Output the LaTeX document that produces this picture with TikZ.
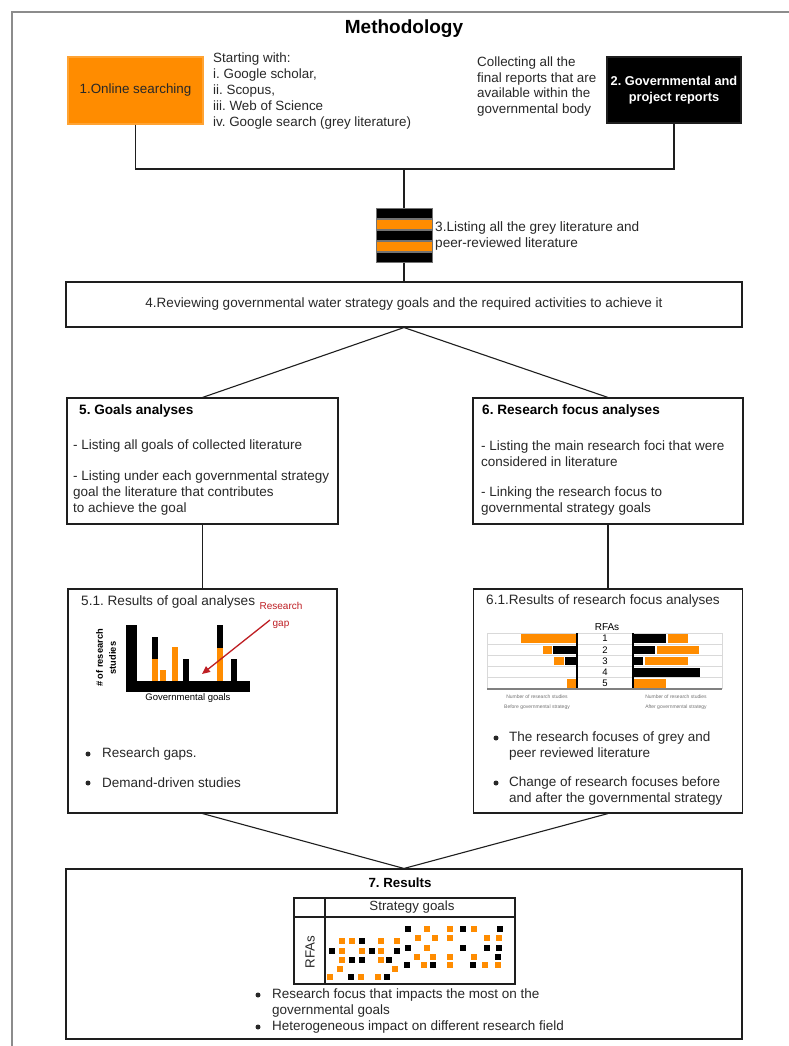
\documentclass[tikz,border=0pt]{standalone}
\usepackage{fontspec}
\setmainfont{Liberation Sans}
\usetikzlibrary{arrows.meta}
\definecolor{orng}{RGB}{255,140,0}
\definecolor{lcol}{RGB}{30,30,30}
\definecolor{tcol}{RGB}{40,40,40}
\definecolor{gapred}{RGB}{190,30,35}
\begin{document}
\frenchspacing
\begin{tikzpicture}[x=1pt,y=-1pt,
  box/.style={draw=lcol,line width=1.1pt,inner sep=0pt},
  conn/.style={draw=lcol,line width=1.1pt},
  tt/.style={inner sep=0pt,text=tcol,align=left,font=\fontsize{13.5}{16}\selectfont},
  tsm/.style={inner sep=0pt,text=tcol,align=left,font=\fontsize{13.4}{15.8}\selectfont},
  thd/.style={inner sep=0pt,text=black,align=left,font=\bfseries\fontsize{13.6}{16}\selectfont},
  tbig/.style={inner sep=0pt,text=tcol,align=left,font=\fontsize{13.6}{16}\selectfont},
  bul/.style={circle,fill=tcol,inner sep=0pt,minimum size=5pt},
  tiny/.style={inner sep=0pt,text=black!55,font=\fontsize{5}{6}\selectfont},
  osq/.style={fill=orng},
  bsq/.style={fill=black}]
\useasboundingbox (0,0) rectangle (789,1046);
\fill[white] (0,0) rectangle (789,1046);
\draw[black!45,line width=1.5pt] (12,1046) -- (12,12) -- (789,12);

% title
\node[inner sep=0pt,font=\bfseries\fontsize{19}{22}\selectfont] (title) at (404,29) {Methodology};

% top boxes
\node[box,draw=orng!80,fill=orng,minimum width=135,minimum height=67,text=tcol,font=\fontsize{13.4}{16}\selectfont] (b1) at (135.5,90.5) {1.Online searching};
\node[box,fill=black,minimum width=134,minimum height=66,text=white,align=center,font=\bfseries\fontsize{12.8}{16}\selectfont] (b2) at (674,90) {2. Governmental and\\project reports};
\node[tsm,anchor=west] (src) at (213,91) {Starting with:\\i. Google scholar,\\ii. Scopus,\\iii. Web of Science\\iv. Google search (grey literature)};
\node[tsm,anchor=west] (col) at (477,86.5) {Collecting all the\\final reports that are\\available within the\\governmental body};

\coordinate (j) at (404,169);
\node[minimum width=56,minimum height=55,inner sep=0pt] (st) at (404,235.5) {};
\draw[conn] (b1.south) -- (b1.south |- j) -- (b2.south |- j) -- (b2.south);
\draw[conn] (j) -- (st.north);

% stack
\foreach \i/\c in {0/black,1/orng,2/black,3/orng,4/black}
  \filldraw[fill=\c,draw=black!55,line width=0.5pt] (376,{208+\i*11}) rectangle (432,{218.5+\i*11});
\node[tsm,font=\fontsize{13.6}{16}\selectfont,anchor=west] (t3) at (435,236) {3.Listing all the grey literature and\\peer-reviewed literature};

% box 4
\node[box,minimum width=676,minimum height=45,text=tcol,font=\fontsize{13.5}{16}\selectfont] (b4) at (404,304.5) {4.Reviewing governmental water strategy goals and the required activities to achieve it};
\draw[conn] (st.south) -- (b4.north);

% boxes 5 and 6
\node[box,minimum width=271,minimum height=126] (b5) at (202.5,461) {};
\node[box,minimum width=270,minimum height=126] (b6) at (608,461) {};
\draw[conn] (b4.south) -- (b5.north);
\draw[conn] (b4.south) -- (b6.north);
\node[thd,anchor=west] (b5h) at (79,411) {5. Goals analyses};
\node[tt,anchor=west] (b5a) at (73,446) {- Listing all goals of collected literature};
\node[tt,anchor=west] (b5b) at (73,493) {- Listing under each governmental strategy\\goal the literature that contributes\\to achieve the goal};
\node[thd,anchor=west] (b6h) at (482,411) {6. Research focus analyses};
\node[tt,anchor=west] (b6a) at (481,454) {- Listing the main research foci that were\\considered in literature};
\node[tt,anchor=west] (b6b) at (481,501) {- Linking the research focus to\\governmental strategy goals};

% boxes 5.1 and 6.1
\node[box,minimum width=269,minimum height=224] (b51) at (202.5,701) {};
\node[box,minimum width=269,minimum height=224] (b61) at (608,701) {};
\draw[conn] (b5.south) -- (b51.north);
\draw[conn] (b6.south) -- (b61.north);

\node[tbig,anchor=west] (b51h) at (81,602) {5.1. Results of goal analyses};
% bar chart 5.1
\fill[black] (126,625) rectangle (137,692);
\fill[black] (126,681) rectangle (250,692);
\fill[black] (152,637) rectangle (158,659);
\fill[orng] (152,659) rectangle (158,681);
\fill[orng] (160,670) rectangle (166,681);
\fill[orng] (172,647) rectangle (178,681);
\fill[black] (183,659) rectangle (189,681);
\fill[black] (217,625) rectangle (223,648);
\fill[orng] (217,648) rectangle (223,681);
\fill[black] (231,659) rectangle (237,681);
\node[inner sep=0pt,rotate=90,align=center,font=\bfseries\fontsize{9.3}{13}\selectfont] (ylab) at (106,658) {\# of research\\studies};
\node[inner sep=0pt,font=\fontsize{9.5}{11}\selectfont] (xlab) at (188,698) {Governmental goals};
\node[inner sep=0pt,text=gapred,align=center,font=\fontsize{10}{16.5}\selectfont] (gap) at (281,615.5) {Research\\gap};
\coordinate (gs) at (270,620);
\coordinate (ge) at (202,674);
\draw[gapred,line width=1.3pt,-{Triangle[length=8pt,width=7pt]}] (gs) -- (ge);
\node[bul] (bu1) at (88,754) {};
\node[tt,anchor=west] (r1) at (102,754) {Research gaps.};
\node[bul] (bu2) at (88,783) {};
\node[tt,anchor=west] (r2) at (102,783) {Demand-driven studies};

% 6.1
\node[tbig,anchor=west] (b61h) at (486,601) {6.1.Results of research focus analyses};
\node[inner sep=0pt,font=\fontsize{10}{12}\selectfont] (rfa) at (607,627) {RFAs};
\foreach \y in {633,644.2,655.4,666.6,677.8}
  \draw[black!15,line width=0.7pt] (487,\y) -- (722,\y);
\draw[black!15,line width=0.7pt] (487,633) -- (487,689);
\draw[black!15,line width=0.7pt] (722,633) -- (722,689);
% row 1
\fill[orng] (521,634.3) rectangle (577,642.9);
\fill[black] (633,634.3) rectangle (666,642.9);
\fill[orng] (667.5,634.3) rectangle (688,642.9);
% row 2
\fill[orng] (543,645.5) rectangle (552,654.1);
\fill[black] (553,645.5) rectangle (577,654.1);
\fill[black] (633,645.5) rectangle (655,654.1);
\fill[orng] (657,645.5) rectangle (699,654.1);
% row 3
\fill[orng] (554,656.7) rectangle (563.5,665.3);
\fill[black] (564.5,656.7) rectangle (577,665.3);
\fill[black] (633,656.7) rectangle (643,665.3);
\fill[orng] (645,656.7) rectangle (688,665.3);
% row 4
\fill[black] (633,667.9) rectangle (700,676.5);
% row 5
\fill[orng] (567,679.1) rectangle (577,687.7);
\fill[orng] (633,679.1) rectangle (666,687.7);
\draw[black,line width=1.2pt] (577,633) -- (577,689);
\draw[black,line width=1.2pt] (633,633) -- (633,689);
\draw[black!50,line width=1.2pt] (487,689) -- (722,689);
\foreach \n/\y in {1/638.6,2/649.8,3/661,4/672.2,5/683.4}
  \node[inner sep=0pt,font=\fontsize{9.5}{11}\selectfont] (num\n) at (605,\y) {\n};
\node[tiny] (lx1) at (537,697) {Number of research studies};
\node[tiny] (lx2) at (537,707) {Before governmental strategy};
\node[tiny] (lx3) at (676,697) {Number of research studies};
\node[tiny] (lx4) at (676,707) {After governmental strategy};
\node[bul] (bu3) at (496,738) {};
\node[tt,anchor=west] (r3) at (509,746) {The research focuses of grey and\\peer reviewed literature};
\node[bul] (bu4) at (496,783) {};
\node[tt,anchor=west] (r4) at (509,791) {Change of research focuses before\\and after the governmental strategy};

% box 7
\node[box,minimum width=676,minimum height=170] (b7) at (404,954) {};
\draw[conn] (b51.south) -- (b7.north);
\draw[conn] (b61.south) -- (b7.north);
\node[inner sep=0pt,font=\bfseries\fontsize{13.3}{16}\selectfont] (b7h) at (400,883) {7. Results};
\node[draw=lcol,line width=1.1pt,minimum width=221,minimum height=86,inner sep=0pt] (tab) at (404.5,941) {};
\draw[lcol,line width=1.1pt] (tab.north west |- 0,917) -- (tab.north east |- 0,917);
\draw[lcol,line width=1.1pt] (325,898) -- (325,984);
\node[inner sep=0pt,text=tcol,font=\fontsize{13.3}{16}\selectfont] (sg) at (412,907) {Strategy goals};
\node[inner sep=0pt,text=tcol,rotate=90,font=\fontsize{13.3}{16}\selectfont] (rf) at (310,952) {RFAs};
\foreach \x/\y in {427/929,450/929,474/929,418/938,435/938,450/938,487/938,499/938,427/948,417/957,433/957,450/957,474/957,424/965,450/965,485/965,498/965,342/941,352/941,381/941,397/941,342/951,362/951,381/951,342/960,381/960,340/969,395/969,330/977,361/977,378/977}
  \fill[osq] ({\x-3.3},{\y-3.3}) rectangle ({\x+3.3},{\y+3.3});
\foreach \x/\y in {408/929,463/929,500/929,408/948,463/948,487/948,499/948,498/957,407/965,433/965,473/965,362/941,332/951,372/951,397/951,352/960,362/960,389/960,351/977,387/977}
  \fill[bsq] ({\x-3.3},{\y-3.3}) rectangle ({\x+3.3},{\y+3.3});
\node[bul] (bu5) at (258,995) {};
\node[tt,anchor=west] (r5) at (272,1003) {Research focus that impacts the most on the\\governmental goals};
\node[bul] (bu6) at (258,1027) {};
\node[tt,anchor=west] (r6) at (272,1027) {Heterogeneous impact on different research field};
\end{tikzpicture}
\end{document}
